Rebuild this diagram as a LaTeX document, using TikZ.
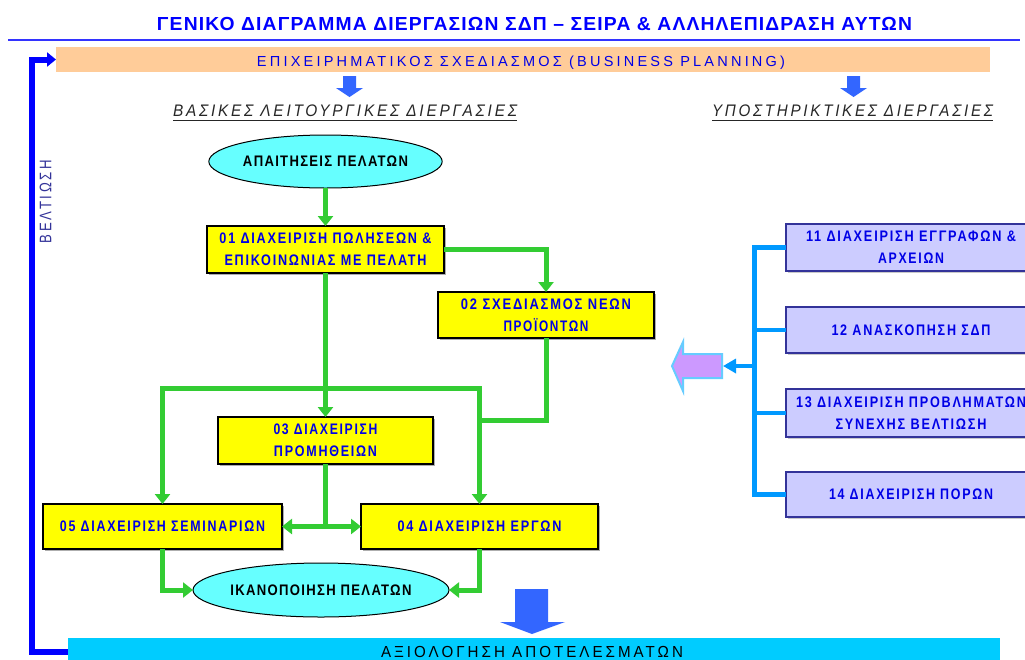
\documentclass[tikz,border=0pt]{standalone}
\usepackage{fontspec}
\setmainfont{Liberation Sans}
\usepackage{graphicx}
\usetikzlibrary{shapes.geometric,arrows.meta,shadows}

\definecolor{flowgreen}{HTML}{33CC33}
\definecolor{boxyellow}{HTML}{FFFF00}
\definecolor{lav}{HTML}{CCCCFF}
\definecolor{lavborder}{HTML}{333399}
\definecolor{ellcyan}{HTML}{66FFFF}
\definecolor{planorange}{HTML}{FFCC99}
\definecolor{evalcyan}{HTML}{00CCFF}
\definecolor{blockblue}{HTML}{3366FF}
\definecolor{spineblue}{HTML}{0099FF}
\definecolor{loopblue}{HTML}{0000FF}
\definecolor{txtblue}{HTML}{0000E6}
\definecolor{arrowviolet}{HTML}{CC99FF}
\definecolor{arrowedge}{HTML}{66CCFF}

% tracked text set to an exact width and cap height: {width}{height}{tracking}{text}
\newcommand\fitt[4]{\resizebox{#1pt}{#2pt}{\addfontfeature{LetterSpace=#3}\vphantom{A}\smash{#4}}}
% two centred lines with a fixed gap between them
\newcommand\twoline[2]{\vbox{\offinterlineskip\halign{\hfil##\hfil\cr#1\cr\noalign{\kern11.5pt}#2\cr}}}

\begin{document}
\begin{tikzpicture}[x=1pt,y=-1pt,
  txt/.style={inner sep=0pt,outer sep=0pt},
  ybox/.style={rectangle,draw=black,line width=1.5pt,fill=boxyellow,inner sep=0pt,outer sep=0pt,
    text=txtblue,font=\bfseries,
    drop shadow={shadow xshift=2pt,shadow yshift=-2pt,fill=black!45,opacity=.7}},
  pbox/.style={rectangle,draw=lavborder,line width=1.5pt,fill=lav,inner sep=0pt,outer sep=0pt,
    text=txtblue,font=\bfseries,minimum width=250pt,
    drop shadow={shadow xshift=1.5pt,shadow yshift=-1.5pt,fill=black!35,opacity=.6}},
  ell/.style={ellipse,draw=black,line width=1pt,fill=ellcyan,inner sep=0pt,outer sep=0pt,font=\bfseries},
  gline/.style={draw=flowgreen,line width=5pt,>={Triangle[width=15pt,length=10pt]}},
  spinel/.style={draw=spineblue,line width=4pt},
  loopline/.style={draw=loopblue,line width=6pt},
  bar/.style={rectangle,inner sep=0pt,outer sep=0pt}
]
\useasboundingbox (0,0) rectangle (1025,659);
\fill[white] (0,0) rectangle (1025,659);
\clip (0,0) rectangle (1025,659);

% ---- heading ----
\node[txt,text=loopblue,font=\bfseries] (title) at (534.5,23.5)
  {\fitt{755}{13}{6}{ΓΕΝΙΚΟ ΔΙΑΓΡΑΜΜΑ ΔΙΕΡΓΑΣΙΩΝ ΣΔΠ – ΣΕΙΡΑ \& ΑΛΛΗΛΕΠΙΔΡΑΣΗ ΑΥΤΩΝ}};
\draw[loopblue!80,line width=1.8pt] (8,40) -- (1020,40);

% ---- planning and evaluation bars ----
\node[bar,fill=planorange,minimum width=934pt,minimum height=25pt] (plan) at (523,59.5) {};
\node[txt,text=txtblue] (plantext) at (521,61)
  {\fitt{528}{10}{22}{ΕΠΙΧΕΙΡΗΜΑΤΙΚΟΣ ΣΧΕΔΙΑΣΜΟΣ (BUSINESS PLANNING)}};
\node[bar,fill=evalcyan,minimum width=932pt,minimum height=28pt] (eval) at (534,652) {};
\node[txt,text=black] (evaltext) at (532,651.5) {\fitt{302}{11}{20}{ΑΞΙΟΛΟΓΗΣΗ ΑΠΟΤΕΛΕΣΜΑΤΩΝ}};

% ---- block arrows ----
\fill[blockblue] (343,76) -- (356,76) -- (356,88) -- (363,88) -- (349.5,97) -- (336,88) -- (343,88) -- cycle;
\fill[blockblue] (847,76) -- (860,76) -- (860,88) -- (867,88) -- (853.5,97) -- (840,88) -- (847,88) -- cycle;
\fill[blockblue] (515,589) -- (548,589) -- (548,622) -- (565,622) -- (532,634) -- (500,622) -- (515,622) -- cycle;

% ---- section headings ----
\node[txt,text=black!85,font=\itshape] (h1) at (345,111) {\fitt{344}{11.5}{18}{ΒΑΣΙΚΕΣ ΛΕΙΤΟΥΡΓΙΚΕΣ ΔΙΕΡΓΑΣΙΕΣ}};
\node[txt,text=black!85,font=\itshape] (h2) at (852.5,111) {\fitt{281}{11.5}{18}{ΥΠΟΣΤΗΡΙΚΤΙΚΕΣ ΔΙΕΡΓΑΣΙΕΣ}};
\draw[black!85,line width=1pt] (h1.south west) ++(0,3.5) -- ++(344,0);
\draw[black!85,line width=1pt] (h2.south west) ++(0,3.5) -- ++(281,0);

% ---- improvement loop ----
\node[txt,text=lavborder,rotate=90] (impr) at (45.5,201.5) {\fitt{83}{11.5}{20}{ΒΕΛΤΙΩΣΗ}};
\coordinate (loopx) at (32,300);
\draw[loopline,-{Triangle[width=14pt,length=9pt]}] (eval.west) -| (loopx) |- (plan.west);

% ---- core processes ----
\node[ell,minimum width=231pt,minimum height=53pt] (need) at (325.5,161.5)
  {\fitt{165}{10.5}{10}{ΑΠΑΙΤΗΣΕΙΣ ΠΕΛΑΤΩΝ}};
\node[ybox,minimum width=237pt,minimum height=47pt] (b01) at (325.5,249.5)
  {\twoline{\fitt{212}{10.5}{14}{01 ΔΙΑΧΕΙΡΙΣΗ ΠΩΛΗΣΕΩΝ \&}}{\fitt{202}{10.5}{14}{ΕΠΙΚΟΙΝΩΝΙΑΣ ΜΕ ΠΕΛΑΤΗ}}};
\node[ybox,minimum width=216pt,minimum height=46pt] (b02) at (546,315)
  {\twoline{\fitt{170}{10.5}{14}{02 ΣΧΕΔΙΑΣΜΟΣ ΝΕΩΝ}}{\fitt{85}{10.5}{14}{ΠΡΟΪΟΝΤΩΝ}}};
\node[ybox,minimum width=215pt,minimum height=47pt] (b03) at (325.5,440.5)
  {\twoline{\fitt{104}{10.5}{14}{03 ΔΙΑΧΕΙΡΙΣΗ}}{\fitt{103}{10.5}{14}{ΠΡΟΜΗΘΕΙΩΝ}}};
\node[ybox,minimum width=239pt,minimum height=45pt] (b05) at (162.5,526.5)
  {\fitt{205}{10.5}{14}{05 ΔΙΑΧΕΙΡΙΣΗ ΣΕΜΙΝΑΡΙΩΝ}};
\node[ybox,minimum width=237pt,minimum height=45pt] (b04) at (479.5,526.5)
  {\fitt{164}{10.5}{14}{04 ΔΙΑΧΕΙΡΙΣΗ ΕΡΓΩΝ}};
\node[ell,minimum width=232pt,minimum height=54pt] (sat) at (321,590)
  {\fitt{181}{10.5}{10}{ΙΚΑΝΟΠΟΙΗΣΗ ΠΕΛΑΤΩΝ}};

% ---- flow between core processes ----
\coordinate (fork) at (325.5,388);
\coordinate (join) at (479.5,420);
\draw[gline,->] (need.south) -- (b01.north);
\draw[gline,->] (b01.east) -| (b02.north);
\draw[gline,->] (b01.south) -- (b03.north);
\draw[gline,<->] (b05.north) |- (fork) -| (b04.north);
\draw[gline] (b02.south) |- (join);
\draw[gline] (b03.south) -- (b03.south |- b05.east);
\draw[gline,<->] (b05.east) -- (b04.west);
\draw[gline,->] (b05.south) |- (sat.west);
\draw[gline,->] (b04.south) |- (sat.east);

% ---- support processes ----
\node[pbox,minimum height=47pt] (b11) at (911,247.5)
  {\twoline{\fitt{210}{10.5}{14}{11 ΔΙΑΧΕΙΡΙΣΗ ΕΓΓΡΑΦΩΝ \&}}{\fitt{66}{10.5}{14}{ΑΡΧΕΙΩΝ}}};
\node[pbox,minimum height=46pt] (b12) at (911,330)
  {\fitt{159}{10.5}{14}{12 ΑΝΑΣΚΟΠΗΣΗ ΣΔΠ}};
\node[pbox,minimum height=48pt] (b13) at (911,413)
  {\twoline{\fitt{230}{10.5}{14}{13 ΔΙΑΧΕΙΡΙΣΗ ΠΡΟΒΛΗΜΑΤΩΝ}}{\fitt{151}{10.5}{14}{ΣΥΝΕΧΗΣ ΒΕΛΤΙΩΣΗ}}};
\node[pbox,minimum height=45pt] (b14) at (911,494.5)
  {\fitt{164}{10.5}{14}{14 ΔΙΑΧΕΙΡΙΣΗ ΠΟΡΩΝ}};

% feed arrow towards the core processes
\filldraw[fill=arrowviolet,draw=arrowedge,line width=2pt,line join=miter]
  (672,366) -- (683,342) -- (683,354) -- (722,354) -- (722,378) -- (683,378) -- (683,391) -- cycle;
\coordinate (feedtail) at (723,366);

\coordinate (spine) at (754,300);
\draw[spinel,line width=5pt] (b11.west) -| (spine |- b14.west) -- (b14.west);
\draw[spinel] (b12.west) -- (spine |- b12.west);
\draw[spinel] (b13.west) -- (spine |- b13.west);
\draw[spinel,-{Triangle[width=14pt,length=13pt]}] (spine |- feedtail) -- (feedtail);
\end{tikzpicture}
\end{document}
